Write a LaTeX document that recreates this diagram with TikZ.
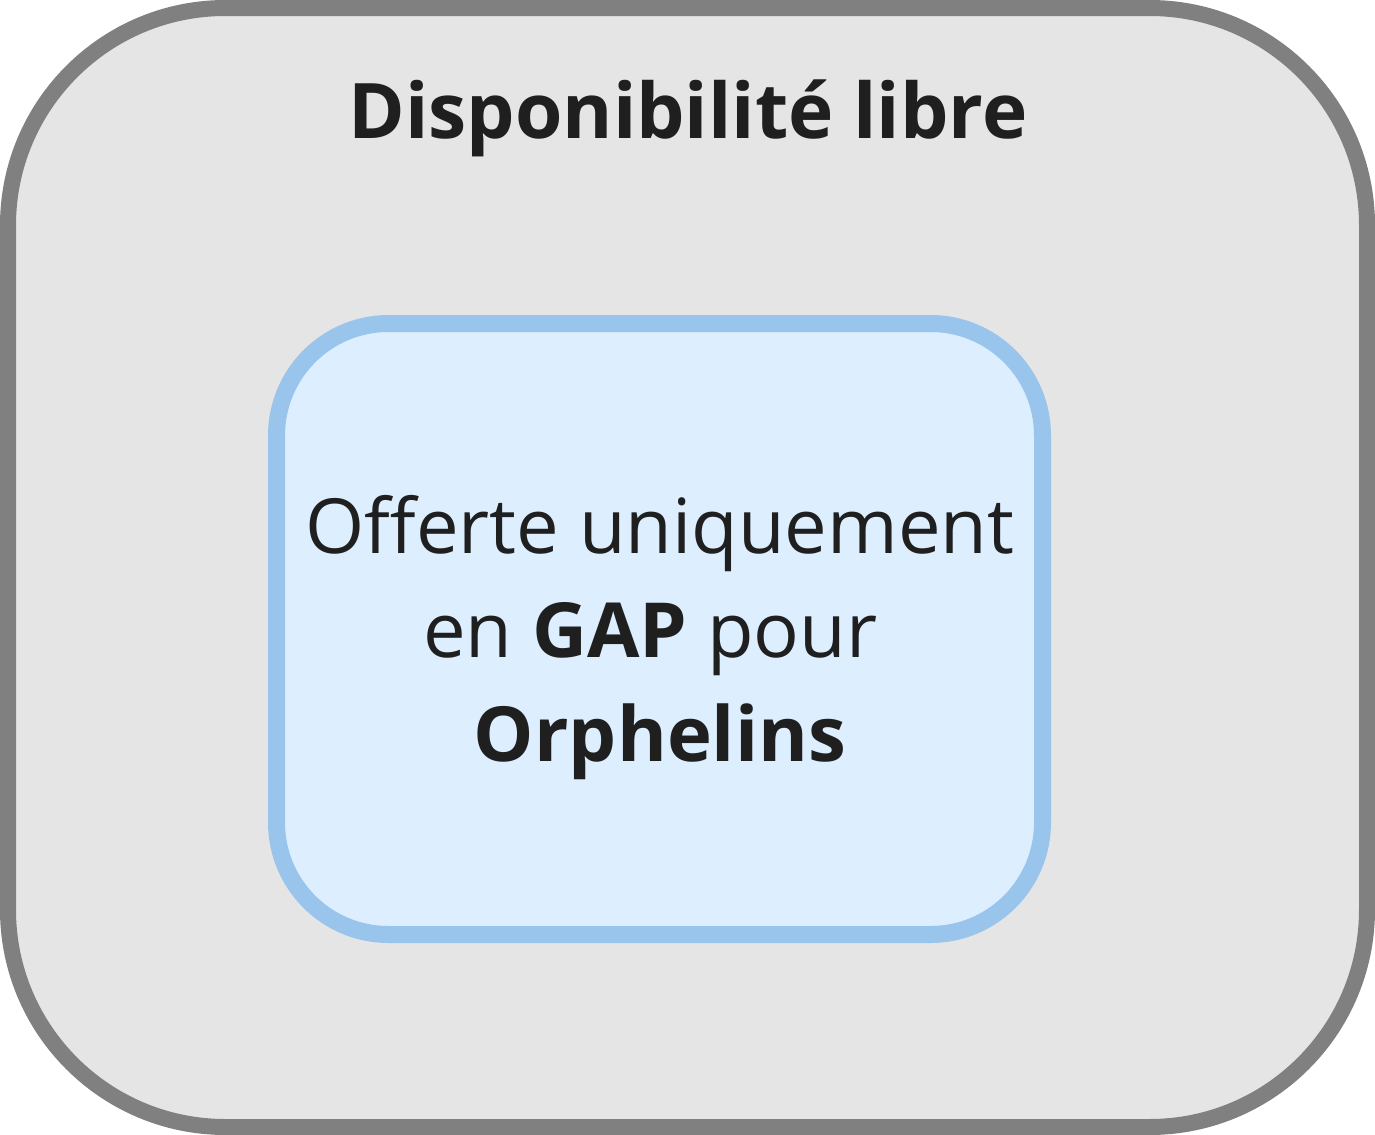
\documentclass[tikz,border=0pt]{standalone}
\usepackage{fontspec}
\setmainfont{Open Sans}
\usetikzlibrary{positioning}
\definecolor{outerline}{HTML}{808080}
\definecolor{outerfill}{HTML}{E5E5E5}
\definecolor{innerline}{HTML}{99C4EC}
\definecolor{innerfill}{HTML}{DDEEFF}
\definecolor{textdark}{HTML}{1F1F1F}
\begin{document}
\begin{tikzpicture}[x=0.75pt, y=-0.75pt]
    % page
    \useasboundingbox (0,0) rectangle (1375,1135);
    % outer box
    \draw [outerline, fill=outerfill, line width=12pt, rounded corners=163pt]
    (8,8) rectangle (1367,1127);
    % inner box
    \draw [innerline, fill=innerfill, line width=12.75pt, rounded corners=84pt]
    (276.5,323.5) rectangle (1042.5,934.5);
    % title
    \node [textdark, font=\fontsize{57.5}{68}\selectfont\bfseries, inner sep=0pt]
    (title) at (688,118) {Disponibilité libre};
    % inner text
    \node [textdark, align=center, font=\fontsize{57}{78}\selectfont, inner sep=0pt]
    (offer) at (660,638)
    {Offerte uniquement\\en \textbf{GAP} pour\hbox{\ }\\\textbf{Orphelins}};
\end{tikzpicture}
\end{document}
